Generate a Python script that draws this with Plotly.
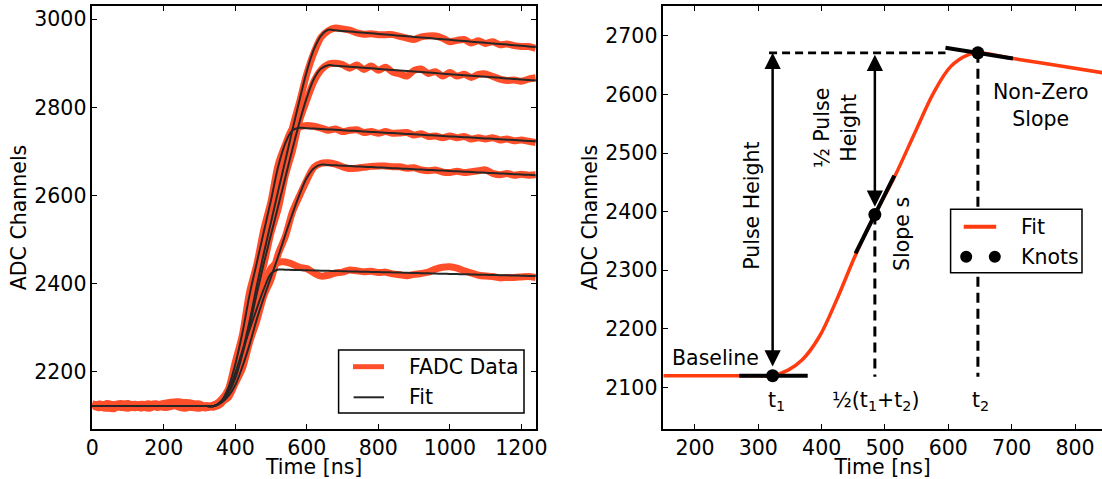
import plotly.graph_objects as go

# ---------------- data: left panel (FADC pulses + fits) ----------------
time_ns = [0, 20, 40, 60, 80, 100, 120, 140, 160, 180, 200, 220, 240, 260, 280, 300, 320, 340,
           360, 380, 400, 420, 440, 460, 480, 500, 520, 540, 560, 580, 600, 620, 640, 660,
           680, 700, 720, 740, 760, 780, 800, 820, 840, 860, 880, 900, 920, 940, 960, 980,
           1000, 1020, 1040, 1060, 1080, 1100, 1120, 1140, 1160, 1180, 1200, 1220, 1240]

fadc_1 = [2125, 2118, 2128, 2124, 2119, 2123, 2126, 2120, 2117, 2124, 2125, 2128, 2127, 2121, 2119, 2124, 2120, 2125,
          2133, 2149, 2193, 2242, 2320, 2392, 2476, 2536, 2616, 2677, 2754, 2813, 2876, 2924, 2959, 2974,
          2980, 2978, 2975, 2969, 2966, 2967, 2965, 2965, 2965, 2961, 2957, 2954, 2960, 2962, 2962, 2957,
          2949, 2952, 2954, 2946, 2951, 2945, 2949, 2942, 2944, 2940, 2938, 2938, 2934]
fadc_2 = [2120, 2127, 2119, 2116, 2124, 2126, 2121, 2118, 2125, 2127, 2120, 2123, 2129, 2126, 2119, 2117, 2123, 2120,
          2127, 2155, 2180, 2243, 2300, 2382, 2444, 2516, 2570, 2646, 2702, 2771, 2817, 2859, 2885, 2898,
          2900, 2897, 2889, 2896, 2886, 2894, 2884, 2891, 2880, 2876, 2871, 2884, 2887, 2877, 2881, 2871,
          2879, 2871, 2875, 2868, 2875, 2876, 2870, 2864, 2861, 2862, 2859, 2864, 2867]
fadc_3 = [2126, 2120, 2117, 2125, 2128, 2121, 2118, 2124, 2127, 2119, 2122, 2126, 2120, 2117, 2125, 2127, 2119, 2123,
          2136, 2159, 2222, 2284, 2381, 2443, 2524, 2587, 2670, 2715, 2751,
          2756, 2759, 2757, 2753, 2748, 2751, 2745, 2748, 2749, 2743, 2745, 2741, 2745, 2741, 2742, 2743, 2737,
          2740, 2734, 2735, 2731, 2735, 2731, 2734, 2728, 2731, 2728, 2731, 2726, 2728, 2724, 2726, 2723, 2720]
fadc_4 = [2119, 2126, 2123, 2117, 2125, 2128, 2120, 2118, 2123, 2126, 2119, 2121, 2127, 2130, 2128, 2120, 2118, 2124,
          2131, 2141, 2174, 2208, 2267, 2316, 2373, 2410, 2467, 2507, 2563, 2600, 2635, 2664, 2673,
          2674, 2671, 2665, 2661, 2662, 2664, 2666, 2667, 2667, 2665, 2665, 2662, 2663, 2658, 2656, 2658,
          2653, 2652, 2655, 2652, 2654, 2656, 2658, 2650, 2647, 2650, 2646, 2648, 2646, 2647]
fadc_5 = [2127, 2124, 2118, 2125, 2120, 2117, 2123, 2126, 2119, 2124, 2128, 2131, 2132, 2129, 2125, 2119, 2123, 2120,
          2134, 2152, 2201, 2245, 2300, 2341, 2393, 2435,
          2448, 2449, 2444, 2437, 2434, 2424, 2417, 2419, 2424, 2426, 2431, 2429, 2427, 2428, 2425, 2426,
          2422, 2420, 2418, 2421, 2423, 2426, 2433, 2437, 2438, 2435, 2429, 2424, 2419, 2417, 2416, 2413,
          2414, 2414, 2415, 2416, 2414]

fit_1 = [2122] * 18 + [2131, 2152, 2189, 2246, 2315, 2395, 2470, 2540, 2611, 2680, 2750, 2818, 2882, 2932, 2963, 2976,
                       2974.8, 2973.4, 2972.1, 2970.7, 2969.4, 2968.0, 2966.7, 2965.3, 2964.0, 2962.6, 2961.3,
                       2959.9, 2958.6, 2957.2, 2955.9, 2954.5, 2953.2, 2951.8, 2950.5, 2949.1, 2947.8, 2946.4,
                       2945.1, 2943.7, 2942.4, 2941.0, 2939.7, 2938.3, 2937.0]
fit_2 = [2122] * 18 + [2130, 2151, 2185, 2240, 2304, 2377, 2447, 2512, 2576, 2641, 2706, 2768, 2822, 2865, 2888, 2895.7,
                       2894.5, 2893.3, 2892.1, 2890.9, 2889.7, 2888.5, 2887.3, 2886.1, 2884.9, 2883.7, 2882.5,
                       2881.3, 2880.1, 2878.9, 2877.7, 2876.5, 2875.3, 2874.1, 2872.9, 2871.7, 2870.5, 2869.3,
                       2868.1, 2866.9, 2865.7, 2864.5, 2863.3, 2862.1, 2860.9]
fit_3 = [2122] * 18 + [2133, 2163, 2217, 2289, 2375, 2447, 2519, 2590, 2666, 2719, 2748,
                       2753.6, 2752.7, 2751.8, 2750.8, 2749.9, 2749.0, 2748.1, 2747.1, 2746.2, 2745.3, 2744.3,
                       2743.4, 2742.5, 2741.6, 2740.6, 2739.7, 2738.8, 2737.9, 2736.9, 2736.0, 2735.1, 2734.1,
                       2733.2, 2732.3, 2731.4, 2730.4, 2729.5, 2728.6, 2727.6, 2726.7, 2725.8, 2724.9, 2723.9, 2723.0]
fit_4 = [2122] * 18 + [2129, 2144, 2170, 2212, 2262, 2319, 2369, 2415, 2462, 2511, 2559, 2603, 2640, 2662, 2670,
                       2669.2, 2668.4, 2667.6, 2666.8, 2666.0, 2665.2, 2664.4, 2663.6, 2662.8, 2662.0, 2661.2,
                       2660.4, 2659.6, 2658.8, 2658.0, 2657.2, 2656.4, 2655.6, 2654.8, 2654.0, 2653.2, 2652.4,
                       2651.6, 2650.8, 2650.0, 2649.2, 2648.4, 2647.6, 2646.8, 2646.0]
fit_5 = [2122] * 18 + [2131, 2156, 2198, 2248, 2296, 2343, 2388, 2423,
                       2431.8, 2431.4, 2431.0, 2430.6, 2430.2, 2429.8, 2429.4, 2429.0, 2428.5, 2428.1, 2427.7,
                       2427.3, 2426.9, 2426.5, 2426.1, 2425.7, 2425.3, 2424.9, 2424.4, 2424.0, 2423.6, 2423.2,
                       2422.8, 2422.4, 2422.0, 2421.6, 2421.2, 2420.8, 2420.3, 2419.9, 2419.5, 2419.1, 2418.7,
                       2418.3, 2417.9, 2417.5, 2417.0]

fadc_series = [fadc_1, fadc_2, fadc_3, fadc_4, fadc_5]
fit_series = [fit_1, fit_2, fit_3, fit_4, fit_5]

# ---------------- data: right panel (fit model sketch) ----------------
model_time = [150, 250, 300, 322.6, 347, 369, 396, 423.5, 453.5, 484, 514.7, 549, 576.3, 603.6, 631, 646.7, 700, 760, 850]
model_adc = [2120, 2120, 2120, 2120, 2129.5, 2146.6, 2186, 2249, 2326, 2395, 2458.6, 2539, 2602, 2647.5, 2667.5, 2671,
             2661.8, 2651.5, 2636]
knot_t = [322.6, 484.0, 646.7]
knot_adc = [2120, 2395, 2671]
knot_slope = [0.0, 2.17, -0.1725]
tangent_span = [[270, 378], [453.5, 514.7], [595.5, 701.9]]

# ---------------- style ----------------
FONT = "DejaVu Sans"
FS = 20.5
ORANGE_DATA = "#ff4f2a"
ORANGE_FIT = "#ff3b0f"
DARK = "#262626"
W, H = 1102, 479


def px(x):
    return x / W


def py(y):
    return 1 - y / H


fig = go.Figure()

for d in fadc_series:
    fig.add_trace(go.Scatter(x=time_ns, y=d, mode="lines", xaxis="x", yaxis="y",
                             line=dict(color=ORANGE_DATA, width=7, shape="spline", smoothing=0.8),
                             showlegend=False, hoverinfo="skip", name="FADC Data"))
for f in fit_series:
    fig.add_trace(go.Scatter(x=time_ns, y=f, mode="lines", xaxis="x", yaxis="y",
                             line=dict(color=DARK, width=2, shape="spline", smoothing=1.0),
                             showlegend=False, hoverinfo="skip", name="Fit"))

# right panel fit
fig.add_trace(go.Scatter(x=model_time, y=model_adc, mode="lines", xaxis="x2", yaxis="y2",
                         line=dict(color=ORANGE_FIT, width=3.5, shape="spline", smoothing=1.0),
                         showlegend=False, hoverinfo="skip", name="Fit"))

# dashed guide lines
fig.add_trace(go.Scatter(x=[317, tangent_span[2][0]], y=[knot_adc[2], knot_adc[2]], mode="lines",
                         xaxis="x2", yaxis="y2", line=dict(color="black", width=2.8, dash="8px,5px"),
                         showlegend=False, hoverinfo="skip"))
for k in (1, 2):
    fig.add_trace(go.Scatter(x=[knot_t[k], knot_t[k]], y=[knot_adc[k], 2118], mode="lines",
                             xaxis="x2", yaxis="y2", line=dict(color="black", width=3, dash="10px,6px"),
                             showlegend=False, hoverinfo="skip"))

# tangent segments at knots
for k in range(3):
    ta, tb = tangent_span[k]
    ya = knot_adc[k] + knot_slope[k] * (ta - knot_t[k])
    yb = knot_adc[k] + knot_slope[k] * (tb - knot_t[k])
    fig.add_trace(go.Scatter(x=[ta, tb], y=[ya, yb], mode="lines", xaxis="x2", yaxis="y2",
                             line=dict(color="black", width=4), showlegend=False, hoverinfo="skip"))

# knots
fig.add_trace(go.Scatter(x=knot_t, y=knot_adc, mode="markers", xaxis="x2", yaxis="y2",
                         marker=dict(color="black", size=13), showlegend=False, hoverinfo="skip", name="Knots"))

# double arrows
arrow_common = dict(xref="x2", yref="y2", axref="x2", ayref="y2", text="", showarrow=True,
                    arrowhead=2, startarrowhead=2, arrowside="end+start", arrowsize=1.3, startarrowsize=1.3,
                    arrowwidth=2.5, arrowcolor="black", standoff=0, startstandoff=0)
fig.add_annotation(x=knot_t[0], y=knot_adc[2], ax=knot_t[0], ay=knot_adc[0] + 13, **arrow_common)
fig.add_annotation(x=knot_t[1], y=knot_adc[2] - 3, ax=knot_t[1], ay=knot_adc[1] + 11, **arrow_common)

# text labels in right panel
tfont = dict(family=FONT, size=FS, color="black")
labels = [
    dict(x=290, y=2410, text="Pulse Height", textangle=-90),
    dict(x=423, y=2543, text="½ Pulse<br>Height", textangle=-90),
    dict(x=527, y=2362, text="Slope s", textangle=-90),
    dict(x=745.6, y=2582, text="Non-Zero<br>Slope", textangle=0),
    dict(x=232, y=2150, text="Baseline", textangle=0),
    dict(x=329, y=2076, text="t<sub>1</sub>", textangle=0),
    dict(x=485.6, y=2076, text="½(t<sub>1</sub>+t<sub>2</sub>)", textangle=0),
    dict(x=650, y=2076, text="t<sub>2</sub>", textangle=0),
]
for lb in labels:
    fig.add_annotation(xref="x2", yref="y2", showarrow=False, font=tfont, xanchor="center",
                       yanchor="middle", **lb)

# ---------------- legends (drawn) ----------------
shapes = []
# left legend
shapes.append(dict(type="rect", xref="paper", yref="paper", x0=px(338.6), x1=px(524), y0=py(413), y1=py(350),
                   line=dict(color="black", width=1.5), fillcolor="white", layer="above"))
shapes.append(dict(type="line", xref="paper", yref="paper", x0=px(353), x1=px(384), y0=py(366.7), y1=py(366.7),
                   line=dict(color=ORANGE_DATA, width=5)))
shapes.append(dict(type="line", xref="paper", yref="paper", x0=px(353.6), x1=px(384), y0=py(397.3), y1=py(397.3),
                   line=dict(color=DARK, width=2)))
fig.add_annotation(xref="paper", yref="paper", x=px(407), y=py(366.7), text="FADC Data", showarrow=False,
                   xanchor="left", yanchor="middle", font=tfont)
fig.add_annotation(xref="paper", yref="paper", x=px(407), y=py(397.3), text="Fit", showarrow=False,
                   xanchor="left", yanchor="middle", font=tfont)
# right legend
shapes.append(dict(type="rect", xref="paper", yref="paper", x0=px(950.6), x1=px(1082), y0=py(272.7), y1=py(209.3),
                   line=dict(color="black", width=1.5), fillcolor="white", layer="above"))
shapes.append(dict(type="line", xref="paper", yref="paper", x0=px(963.7), x1=px(996.2), y0=py(226.7), y1=py(226.7),
                   line=dict(color=ORANGE_FIT, width=4)))
for cx in (966.2, 994.8):
    shapes.append(dict(type="circle", xref="paper", yref="paper", x0=px(cx - 6), x1=px(cx + 6),
                       y0=py(256.7 + 6), y1=py(256.7 - 6), line=dict(color="black", width=0), fillcolor="black"))
fig.add_annotation(xref="paper", yref="paper", x=px(1019), y=py(226.7), text="Fit", showarrow=False,
                   xanchor="left", yanchor="middle", font=tfont)
fig.add_annotation(xref="paper", yref="paper", x=px(1019), y=py(256.7), text="Knots", showarrow=False,
                   xanchor="left", yanchor="middle", font=tfont)

# ---------------- axes ----------------
axis_common = dict(showgrid=False, zeroline=False, showline=True, linecolor="black", linewidth=1.5,
                   ticks="inside", ticklen=5, tickwidth=1, tickcolor="black",
                   tickfont=dict(family=FONT, size=FS, color="black"), automargin=False)
ydom = [py(429), py(6)]
fig.update_layout(
    width=W, height=H,
    margin=dict(l=0, r=0, t=0, b=0),
    paper_bgcolor="white", plot_bgcolor="white",
    showlegend=False,
    shapes=shapes,
    xaxis=dict(domain=[px(92.3), px(536)], range=[0, 1241], tickvals=[0, 200, 400, 600, 800, 1000, 1200],
               mirror="ticks", anchor="y",
               title=dict(text="Time [ns]", font=dict(family=FONT, size=FS, color="black"), standoff=6),
               **axis_common),
    yaxis=dict(domain=ydom, range=[2070, 3030], tickvals=[2200, 2400, 2600, 2800, 3000],
               mirror="ticks", anchor="x",
               title=dict(text="ADC Channels", font=dict(family=FONT, size=FS, color="black"), standoff=2),
               **axis_common),
    xaxis2=dict(domain=[px(663.3), 1.0], range=[150, 842.6], tickvals=[200, 300, 400, 500, 600, 700, 800],
                mirror="ticks", anchor="y2",
                title=dict(text="Time [ns]", font=dict(family=FONT, size=FS, color="black"), standoff=6),
                **axis_common),
    yaxis2=dict(domain=ydom, range=[2029, 2751], tickvals=[2100, 2200, 2300, 2400, 2500, 2600, 2700],
                mirror=False, anchor="x2",
                title=dict(text="ADC Channels", font=dict(family=FONT, size=FS, color="black"), standoff=2),
                **axis_common),
)

fig.write_html("out.html")
